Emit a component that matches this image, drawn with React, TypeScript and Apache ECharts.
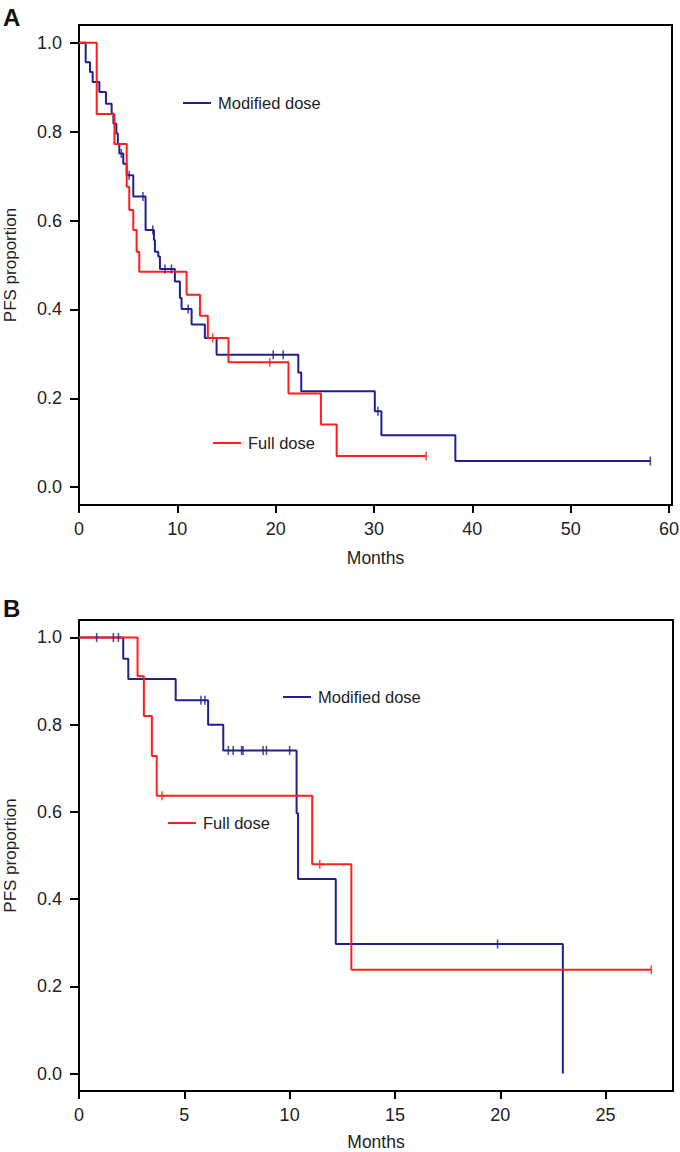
import React, { useEffect, useRef } from "react";
import * as echarts from "echarts";

// ---------- Data ----------
const panelLabels = ["A", "B"];
const legendLabels = ["Modified dose", "Full dose"];
const xAxisTitle = "Months";
const yAxisTitle = "PFS proportion";

const yTicks = [0, 0.2, 0.4, 0.6, 0.8, 1.0];
const xTicksA = [0, 10, 20, 30, 40, 50, 60];
const xTicksB = [0, 5, 10, 15, 20, 25];

// Panel A – Modified dose (blue)
const blueA_t = [0, 0.68, 1.12, 1.39, 2.07, 2.74, 3.32, 3.5, 3.8, 3.95, 4.1, 4.5, 4.85, 5.52, 6.77, 7.62, 7.72, 8.06, 8.23, 9.75, 10.26, 10.43, 11.45, 12.8, 13.99, 22.3, 22.6, 30.08, 30.75, 38.27, 58.1];
const blueA_s = [1, 0.956, 0.934, 0.912, 0.889, 0.863, 0.841, 0.818, 0.796, 0.773, 0.751, 0.728, 0.702, 0.654, 0.579, 0.556, 0.53, 0.519, 0.491, 0.463, 0.426, 0.401, 0.366, 0.336, 0.298, 0.258, 0.216, 0.171, 0.117, 0.059, 0.059];
const blueA_cens_t = [4.3, 5.1, 6.5, 7.5, 8.74, 9.4, 11.1, 19.75, 20.76, 30.4, 58.1];
const blueA_cens_s = [0.751, 0.702, 0.654, 0.579, 0.491, 0.491, 0.401, 0.298, 0.298, 0.171, 0.059];

// Panel A – Full dose (red)
const redA_t = [0, 1.8, 3.6, 4.85, 5.11, 5.52, 5.86, 6.13, 10.94, 12.3, 13.1, 15.2, 21.3, 24.6, 26.2, 35.3];
const redA_s = [1, 0.84, 0.772, 0.676, 0.624, 0.579, 0.53, 0.485, 0.433, 0.386, 0.336, 0.281, 0.211, 0.141, 0.07, 0.07];
const redA_cens_t = [13.6, 19.4, 35.3];
const redA_cens_s = [0.336, 0.281, 0.07];

// Panel B – Modified dose (blue)
const blueB_t = [0, 2.1, 2.34, 4.59, 6.13, 6.85, 10.33, 10.4, 12.19, 22.97];
const blueB_s = [1, 0.951, 0.905, 0.856, 0.8, 0.741, 0.597, 0.446, 0.297, 0];
const blueB_cens_t = [0.84, 1.63, 1.87, 5.79, 5.98, 7.09, 7.32, 7.72, 7.79, 8.74, 8.9, 10.0, 19.87];
const blueB_cens_s = [1, 1, 1, 0.856, 0.856, 0.741, 0.741, 0.741, 0.741, 0.741, 0.741, 0.741, 0.297];

// Panel B – Full dose (red)
const redB_t = [0, 2.78, 3.08, 3.46, 3.69, 11.07, 12.93, 27.17];
const redB_s = [1, 0.911, 0.82, 0.728, 0.637, 0.48, 0.238, 0.238];
const redB_cens_t = [3.94, 11.43, 27.17];
const redB_cens_s = [0.637, 0.48, 0.238];

// ---------- Styles ----------
const BLUE = "#202090";
const RED = "#ff1f1f";
const FONT = "'Liberation Sans', Arial, Helvetica, sans-serif";
const TXT = "#222";

const zip = (a: number[], b: number[]) => a.map((v, i) => [v, b[i]]);

function kmLine(name: string, t: number[], s: number[], color: string, idx: number) {
  return {
    name,
    type: "line",
    xAxisIndex: idx,
    yAxisIndex: idx,
    step: "end",
    data: zip(t, s),
    showSymbol: false,
    symbol: "none",
    lineStyle: { color, width: 2 },
    silent: true,
    z: color === RED ? 3 : 2,
  };
}
function censor(name: string, t: number[], s: number[], color: string, idx: number) {
  return {
    name,
    type: "scatter",
    xAxisIndex: idx,
    yAxisIndex: idx,
    data: zip(t, s),
    symbol: "rect",
    symbolSize: [1.6, 9],
    itemStyle: { color },
    silent: true,
    z: 4,
  };
}

function xAxisCfg(idx: number, max: number, ticks: number[], nameGap: number) {
  return {
    gridIndex: idx,
    type: "value",
    min: 0,
    max,
    name: xAxisTitle,
    nameLocation: "middle",
    nameGap,
    nameTextStyle: { fontSize: 17.5, color: TXT, fontFamily: FONT },
    axisLine: { show: true, onZero: false, lineStyle: { color: "#000", width: 2 } },
    axisTick: { show: true, length: 8, customValues: ticks, lineStyle: { color: "#000", width: 2 } },
    axisLabel: { customValues: ticks, margin: 15, fontSize: 18, color: TXT, fontFamily: FONT },
    splitLine: { show: false },
  };
}
function yAxisCfg(idx: number) {
  return {
    gridIndex: idx,
    type: "value",
    min: -0.04,
    max: 1.04,
    name: yAxisTitle,
    nameLocation: "middle",
    nameGap: 60,
    nameTextStyle: { fontSize: 17, color: TXT, fontFamily: FONT },
    axisLine: { show: true, onZero: false, lineStyle: { color: "#000", width: 2 } },
    axisTick: { show: true, length: 9, customValues: yTicks, lineStyle: { color: "#000", width: 2 } },
    axisLabel: {
      customValues: yTicks,
      margin: 17,
      fontSize: 18,
      color: TXT,
      fontFamily: FONT,
      formatter: (v: number) => v.toFixed(1),
    },
    splitLine: { show: false },
  };
}

function legendItem(x: number, y: number, color: string, text: string) {
  return [
    { type: "line", shape: { x1: x, y1: y, x2: x + 28, y2: y }, style: { stroke: color, lineWidth: 2 } },
    {
      type: "text",
      x: x + 35,
      y,
      style: { text, fontSize: 16.5, fill: TXT, fontFamily: FONT, verticalAlign: "middle", align: "left" },
    },
  ];
}

export default function App() {
  const ref = useRef<HTMLDivElement>(null);
  useEffect(() => {
    if (!ref.current) return;
    const chart = echarts.init(ref.current, null, { renderer: "svg" });
    const gridBase = {
      show: true,
      borderColor: "#000",
      borderWidth: 2,
      containLabel: false,
      outerBoundsMode: "none",
    };
    const option = {
      animation: false,
      backgroundColor: "#fff",
      grid: [
        { ...gridBase, left: 79, top: 25, width: 593, height: 480 },
        { ...gridBase, left: 79, top: 620, width: 594, height: 471 },
      ],
      xAxis: [xAxisCfg(0, 60.3, xTicksA, 44), xAxisCfg(1, 28.2, xTicksB, 42)],
      yAxis: [yAxisCfg(0), yAxisCfg(1)],
      series: [
        kmLine(legendLabels[0], blueA_t, blueA_s, BLUE, 0),
        kmLine(legendLabels[1], redA_t, redA_s, RED, 0),
        censor(legendLabels[0], blueA_cens_t, blueA_cens_s, BLUE, 0),
        censor(legendLabels[1], redA_cens_t, redA_cens_s, RED, 0),
        kmLine(legendLabels[0], blueB_t, blueB_s, BLUE, 1),
        kmLine(legendLabels[1], redB_t, redB_s, RED, 1),
        censor(legendLabels[0], blueB_cens_t, blueB_cens_s, BLUE, 1),
        censor(legendLabels[1], redB_cens_t, redB_cens_s, RED, 1),
      ],
      graphic: [
        {
          type: "text",
          x: 3,
          y: 5,
          style: { text: panelLabels[0], fontSize: 24, fontWeight: "bold", fill: "#111", fontFamily: FONT },
        },
        {
          type: "text",
          x: 3,
          y: 596,
          style: { text: panelLabels[1], fontSize: 24, fontWeight: "bold", fill: "#111", fontFamily: FONT },
        },
        ...legendItem(183, 103, BLUE, legendLabels[0]),
        ...legendItem(213, 443, RED, legendLabels[1]),
        ...legendItem(283, 697, BLUE, legendLabels[0]),
        ...legendItem(168, 823, RED, legendLabels[1]),
      ],
    };
    chart.setOption(option as any);
    return () => chart.dispose();
  }, []);
  return (
    <div
      ref={ref}
      style={{ position: "absolute", left: 0, top: 0, width: 680, height: 1152, background: "#fff" }}
    />
  );
}
